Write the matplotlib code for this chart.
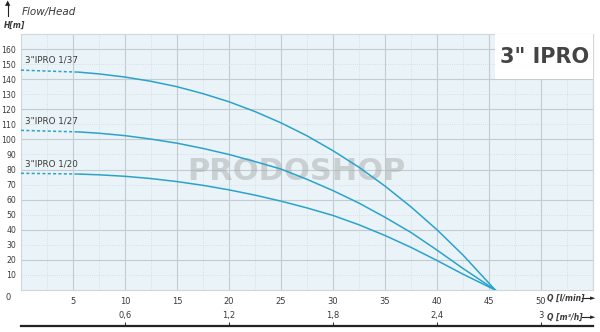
import matplotlib.pyplot as plt
from matplotlib.patches import Rectangle

# pump curves: Q in l/min, H in m
models = ['3"IPRO 1/37', '3"IPRO 1/27', '3"IPRO 1/20']
q_pts = [5.5, 7.5, 10, 12.5, 15, 17.5, 20, 22.5, 25, 27.5, 30, 32.5, 35, 37.5, 40, 42.5, 45.6]
h_37 = [144.7, 143.5, 141.4, 138.6, 135, 130.4, 125, 118.5, 111, 102.4, 92.5, 81.5, 69, 55.2, 40, 23.2, 0]
h_27 = [105, 104.1, 102.5, 100.2, 97.5, 94, 90, 85.3, 80.3, 73.5, 66, 57.7, 48.3, 38.2, 26.5, 14.3, 0]
h_20 = [77, 76.5, 75.5, 74, 72, 69.5, 66.5, 63, 59, 54.5, 49.5, 43.3, 36.2, 28.3, 19.6, 10.5, 0]
h_shutoff = [146, 106, 77.5]

q_ticks = [5, 10, 15, 20, 25, 30, 35, 40, 45, 50]
h_ticks = [10, 20, 30, 40, 50, 60, 70, 80, 90, 100, 110, 120, 130, 140, 150, 160]
m3h_ticks = [0.6, 1.2, 1.8, 2.4, 3]

curve_col = '#2aa3cc'
txt_col = '#3a3a3a'

fig = plt.figure(figsize=(6, 3.32), dpi=100)
ax = fig.add_axes([21/600, 1-290/332, 572/600, 256/332])
ax.set_facecolor('#eaf3f7')
ax.set_xlim(0, 55)
ax.set_ylim(0, 170)

# grid: solid every 5 l/min and 20 m, dotted in between
for x in range(5, 56, 5):
    ax.axvline(x, color='#c3ccd1', lw=0.8, zorder=1)
for x in [2.5 + 5*i for i in range(11)]:
    ax.axvline(x, color='#d2d9dd', lw=0.6, ls=':', zorder=1)
for y in range(20, 171, 20):
    ax.axhline(y, color='#c3ccd1', lw=0.8, zorder=1)
for y in range(10, 171, 20):
    ax.axhline(y, color='#d2d9dd', lw=0.6, ls=':', zorder=1)

for s in ax.spines.values():
    s.set_color('#d0d6da')
    s.set_linewidth(0.8)

ax.set_xticks(q_ticks)
ax.set_yticks(h_ticks)
ax.tick_params(length=0, labelsize=6, colors=txt_col)
ax.tick_params(axis='y', pad=3.5, labelsize=5.6)
ax.tick_params(axis='x', pad=5)
ax.text(-13/572, -8/256, '0', transform=ax.transAxes, fontsize=6,
        color=txt_col, ha='center', va='center')

# curves
for h, h0, name in zip([h_37, h_27, h_20], h_shutoff, models):
    ax.plot([0, q_pts[0]], [h0, h[0]], color=curve_col, lw=1.1, ls=(0, (2, 1.5)), zorder=3)
    ax.plot(q_pts, h, color=curve_col, lw=1.1, zorder=3)
    ax.text(0.4, h0 + 3.5, name, fontsize=6.3, color=txt_col,
            ha='left', va='bottom', zorder=4)

# watermark
ax.text(26.5, 79, 'PRODOSHOP', fontsize=22, fontweight='bold', color='#a5a5a5',
        alpha=0.45, ha='center', va='center', zorder=2)

# title box
ax.add_patch(Rectangle((45.6, 140), 9.4, 30, facecolor='white', edgecolor='none', zorder=4))
ax.text(50.3, 155, '3" IPRO', fontsize=15, fontweight='bold', color='#444444',
        ha='center', va='center', zorder=5)

# second flow axis in m3/h
ax2 = fig.add_axes([21/600, 1-326/332, 572/600, 0.0001])
ax2.set_xlim(0, 55 * 0.06)
ax2.set_ylim(0, 1)
ax2.set_facecolor('none')
for k in ['left', 'right', 'bottom']:
    ax2.spines[k].set_visible(False)
ax2.spines['top'].set_linewidth(1.6)
ax2.spines['top'].set_color('#222222')
ax2.set_yticks([])
ax2.xaxis.tick_top()
ax2.set_xticks(m3h_ticks)
ax2.set_xticklabels([str(t).replace('.', ',') for t in m3h_ticks])
ax2.tick_params(axis='x', direction='out', length=3, width=0.8, pad=1.5,
                labelsize=6, colors=txt_col)

# axis names and arrows
fig.text(22/600, 1-12/332, 'Flow/Head', fontsize=7.5, style='italic', color=txt_col,
         ha='left', va='center')
fig.text(4/600, 1-25/332, 'H[m]', fontsize=5.5, style='italic', fontweight='bold',
         color=txt_col, ha='left', va='center')
fig.add_artist(plt.Line2D([8/600, 8/600], [1-16/332, 1-3/332], color='#222222', lw=0.8))
fig.text(8/600, 1-3/332, '▲', fontsize=5, color='#222222', ha='center', va='center')

fig.text(547/600, 1-298/332, 'Q [l/min]', fontsize=5.5, style='italic', fontweight='bold',
         color=txt_col, ha='left', va='center')
fig.text(547/600, 1-317/332, 'Q [m³/h]', fontsize=5.5, style='italic', fontweight='bold',
         color=txt_col, ha='left', va='center')
for yy in [298, 317]:
    fig.add_artist(plt.Line2D([582/600, 592/600], [1-yy/332, 1-yy/332], color='#222222', lw=0.8))
    fig.text(593/600, 1-yy/332, '►', fontsize=5, color='#222222', ha='center', va='center')

fig.savefig('out.png', dpi=100, facecolor='white')
